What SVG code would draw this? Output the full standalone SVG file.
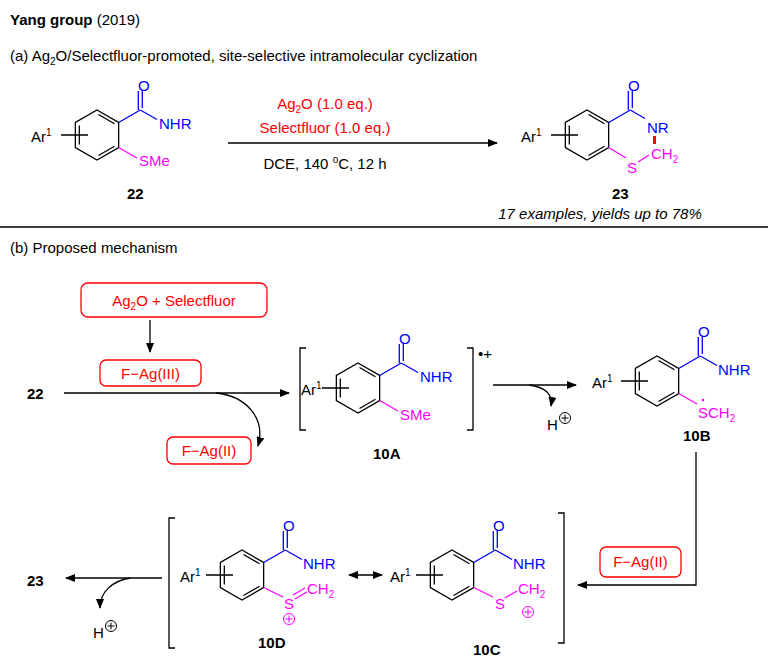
<svg xmlns="http://www.w3.org/2000/svg" width="768" height="663" viewBox="0 0 768 663">
<style>
text{font-family:"Liberation Sans",Arial,sans-serif;font-size:15px;fill:#000}
.b{fill:#0000ff}.m{fill:#ff00ff}.r{fill:#ff0000}
.lbl{font-weight:bold}
.k{stroke:#000;stroke-width:1.3;fill:none}
.bl{stroke:#0000ff;stroke-width:1.3;fill:none}
.mg{stroke:#ff00ff;stroke-width:1.3;fill:none}
.box{fill:#fff;stroke:#ff0000;stroke-width:1.3}
.ar{stroke:#000;stroke-width:1.3;fill:none}
</style>
<defs>
<marker id="ah" markerWidth="10" markerHeight="8" refX="9" refY="4" orient="auto" markerUnits="userSpaceOnUse"><path d="M0,0 L10,4 L0,8 Z" fill="#000"/></marker>
<marker id="ahs" markerWidth="10" markerHeight="8" refX="1" refY="4" orient="auto" markerUnits="userSpaceOnUse"><path d="M10,0 L0,4 L10,8 Z" fill="#000"/></marker>
<g id="core">
<polygon class="k" points="0,-25 21.65,-12.5 21.65,12.5 0,25 -21.65,12.5 -21.65,-12.5"/>
<path class="k" d="M1.5,-20.5 L17.5,-11.2 M17.5,11.2 L1.5,20.5 M-17.7,-9.5 L-17.7,9.5 M-36,0 L-9,0"/>
<path class="bl" d="M21.65,-12.5 L43.3,-25 M41.3,-25 L41.3,-44 M45.3,-27 L45.3,-44"/>
</g>
<g id="nhr"><path class="bl" d="M43.3,-25 L60,-15.5"/></g>
<g id="oplus"><circle r="5.5" fill="none" stroke-width="1"/><path d="M-3.5,0 H3.5 M0,-3.5 V3.5" stroke-width="1"/></g>
</defs>

<text x="10" y="25"><tspan font-weight="bold">Yang group</tspan> (2019)</text>
<text x="10" y="61">(a) Ag<tspan font-size="10" dy="4">2</tspan><tspan dy="-4">O/Selectfluor-promoted, site-selective intramolecular cyclization</tspan></text>

<g id="c22">
<use href="#core" x="97" y="135"/><use href="#nhr" x="97" y="135"/>
<text x="31" y="142">Ar<tspan font-size="10" dy="-6">1</tspan></text>
<text class="b" x="138" y="91">O</text>
<text class="b" x="159" y="129">NHR</text>
<path class="mg" d="M118.65,147.5 L137,158"/>
<text class="m" x="139" y="166">SMe</text>
<text class="lbl" x="127" y="199">22</text>
</g>

<g id="cond">
<text class="r" x="325" y="109" text-anchor="middle">Ag<tspan font-size="10" dy="4">2</tspan><tspan dy="-4">O (1.0 eq.)</tspan></text>
<text class="r" x="325" y="133" text-anchor="middle">Selectfluor (1.0 eq.)</text>
<text x="325" y="169" text-anchor="middle">DCE, 140 <tspan font-size="10" dy="-6">o</tspan><tspan dy="6">C, 12 h</tspan></text>
</g>

<g id="c23">
<use href="#core" x="587" y="135"/>
<text x="521" y="142">Ar<tspan font-size="10" dy="-6">1</tspan></text>
<text class="b" x="628" y="91">O</text>
<path class="bl" d="M630.3,110 L645,118.5"/>
<text class="b" x="647" y="133">NR</text>
<path d="M654.5,136 V144" stroke="#ff0000" stroke-width="3"/>
<path class="mg" d="M608.65,147.5 L626,158 M638,162 L649,155"/>
<text class="m" x="627" y="173">S</text>
<text class="m" x="651" y="159">CH<tspan font-size="10" dy="4">2</tspan></text>
<text class="lbl" x="612" y="199">23</text>
<text x="600" y="219" text-anchor="middle" font-style="italic">17 examples, yields up to 78%</text>
</g>

<line x1="0" y1="227" x2="768" y2="227" stroke="#000" stroke-width="1.5"/>
<text x="10" y="253">(b) Proposed mechanism</text>

<g id="box1"><rect class="box" x="81" y="283" width="186" height="34" rx="7"/><text class="r" x="174" y="306" text-anchor="middle">Ag<tspan font-size="10" dy="4">2</tspan><tspan dy="-4">O + Selectfluor</tspan></text></g>
<g id="box2"><rect class="box" x="100" y="360" width="101" height="26" rx="6"/><text class="r" x="150.5" y="379" text-anchor="middle">F−Ag(III)</text></g>
<g id="box3"><rect class="box" x="167" y="437" width="84" height="27" rx="6"/><text class="r" x="209" y="456" text-anchor="middle">F−Ag(II)</text></g>
<g id="box4"><rect class="box" x="600" y="547" width="81" height="30" rx="6"/><text class="r" x="640.5" y="567" text-anchor="middle">F−Ag(II)</text></g>

<text id="l22" class="lbl" x="27" y="399">22</text>
<text id="l23" class="lbl" x="27" y="586">23</text>

<g id="c10A">
<path class="k" d="M306,348 H300 V430 H306 M467,348 H473 V430 H467"/>
<text x="478" y="359" font-size="11">•+</text>
<use href="#core" x="358" y="388"/><use href="#nhr" x="358" y="388"/>
<text x="301" y="395">Ar<tspan font-size="10" dy="-6">1</tspan></text>
<text class="b" x="399" y="344">O</text>
<text class="b" x="420" y="382">NHR</text>
<path class="mg" d="M379.65,400.5 L398,411"/>
<text class="m" x="400" y="420">SMe</text>
<text class="lbl" x="373" y="459">10A</text>
</g>

<g id="c10B">
<use href="#core" x="657" y="381"/><use href="#nhr" x="657" y="381"/>
<text x="592" y="388">Ar<tspan font-size="10" dy="-6">1</tspan></text>
<text class="b" x="698" y="337">O</text>
<text class="b" x="718" y="375">NHR</text>
<path class="mg" d="M678.65,393.5 L697,404"/>
<text class="m" x="698" y="418">SCH<tspan font-size="10" dy="4">2</tspan></text>
<circle cx="703" cy="400" r="1.3" fill="#ff00ff"/>
<text class="lbl" x="683" y="441">10B</text>
</g>

<g id="c10D">
<use href="#core" x="242" y="575"/><use href="#nhr" x="242" y="575"/>
<text x="180" y="582">Ar<tspan font-size="10" dy="-6">1</tspan></text>
<text class="b" x="283" y="531">O</text>
<text class="b" x="303" y="569">NHR</text>
<path class="mg" d="M263.65,587.5 L283,597 M293,595 L305,588 M295,599 L307,592"/>
<text class="m" x="284" y="609">S</text>
<text class="m" x="307" y="594">CH<tspan font-size="10" dy="4">2</tspan></text>
<use href="#oplus" x="289" y="619" stroke="#ff00ff"/>
<text class="lbl" x="258" y="648">10D</text>
</g>

<g id="c10C">
<use href="#core" x="452" y="575"/><use href="#nhr" x="452" y="575"/>
<text x="390" y="582">Ar<tspan font-size="10" dy="-6">1</tspan></text>
<text class="b" x="493" y="531">O</text>
<text class="b" x="513" y="569">NHR</text>
<path class="mg" d="M473.65,587.5 L493,597 M505,598 L517,591"/>
<text class="m" x="495" y="609">S</text>
<text class="m" x="518" y="594">CH<tspan font-size="10" dy="4">2</tspan></text>
<use href="#oplus" x="528" y="612" stroke="#ff00ff"/>
<text class="lbl" x="473" y="655">10C</text>
</g>

<path id="brk" class="k" d="M175,518 H169 V648 H175 M558,513 H564 V643 H558"/>

<g id="hp1"><text x="547" y="430">H</text><use href="#oplus" x="565" y="418" stroke="#000"/></g>
<g id="hp2"><text x="93" y="638">H</text><use href="#oplus" x="111" y="626" stroke="#000"/></g>

<g id="connectors">
<line class="ar" x1="228" y1="143" x2="497" y2="143" marker-end="url(#ah)"/>
<line class="ar" x1="150" y1="320" x2="150" y2="352" marker-end="url(#ah)"/>
<line class="ar" x1="64" y1="393" x2="289" y2="393" marker-end="url(#ah)"/>
<path class="ar" d="M216,393 C246,396 266,418 258,446" marker-end="url(#ah)"/>
<line class="ar" x1="493" y1="385" x2="576" y2="385" marker-end="url(#ah)"/>
<path class="ar" d="M529,385 C545,387 553,394 551,406" marker-end="url(#ah)"/>
<path class="ar" d="M696,452 V585 H578" marker-end="url(#ah)"/>
<line class="ar" x1="162" y1="578" x2="66" y2="578" marker-end="url(#ah)"/>
<path class="ar" d="M130,578 C112,581 100,592 100,608" marker-end="url(#ah)"/>
<line class="ar" x1="349" y1="575" x2="382" y2="575" marker-start="url(#ahs)" marker-end="url(#ah)"/>
</g>
</svg>
